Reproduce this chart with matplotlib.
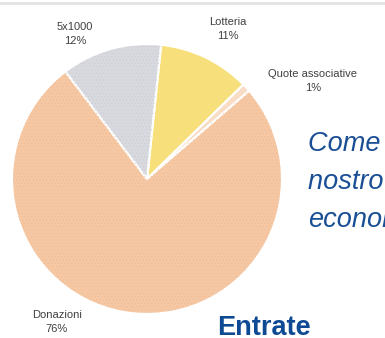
import matplotlib.pyplot as plt
from matplotlib.patches import Wedge

# slices in clockwise order starting near 12 o'clock
labels = ['Lotteria', 'Quote associative', 'Donazioni', '5x1000']
values = [11, 1, 76, 12]
colors = ['#f7e07c', '#f8dcc4', '#f5c7a2', '#d7d9de']
label_pos = [(228, 29), (313, 81), (57, 322), (75, 34)]  # pixel coords of label centres

W, H = 385, 338
fig = plt.figure(figsize=(W / 100, H / 100), dpi=100)
ax = fig.add_axes([0, 0, 1, 1])
ax.set_xlim(0, W)
ax.set_ylim(0, H)
ax.axis('off')

plt.rcParams['hatch.linewidth'] = 0.3
cx, cy, r = 147, H - 179, 135
wedges, _ = ax.pie(values, colors=colors, startangle=84, counterclock=False,
                   center=(cx, cy), radius=r,
                   wedgeprops=dict(edgecolor='white', linewidth=1.6))

# fine dotted texture like the original
for w, c in zip(wedges, ['none', 'none', '#eebb95', '#c8ccd4']):
    if c == 'none':
        continue
    ax.add_patch(Wedge((cx, cy), r - 1, w.theta1, w.theta2, facecolor='none',
                       edgecolor=c, linewidth=0, hatch='.....'))

ax.set_xlim(0, W)
ax.set_ylim(0, H)
ax.set_aspect('equal')

for lab, v, (x, y) in zip(labels, values, label_pos):
    ax.text(x, H - y, f'{lab}\n{v}%', ha='center', va='center', fontsize=8,
            family='Liberation Sans', color='#404040', linespacing=1.45)

# baseline given for the last line
ax.text(308, H - 227, 'Come è andato il\nnostro anno\neconomico', ha='left',
        va='baseline', fontsize=19.5, style='italic', family='Liberation Sans',
        color='#1a4f96', linespacing=1.6)
ax.text(217, H - 335, 'Entrate', ha='left', va='baseline', fontsize=19.5,
        weight='bold', family='Liberation Sans', color='#0d4a93')

# thin grey rule at the very top
ax.axhline(H - 3, color='#e4e4e4', linewidth=2)

fig.savefig('out.png', dpi=100)
